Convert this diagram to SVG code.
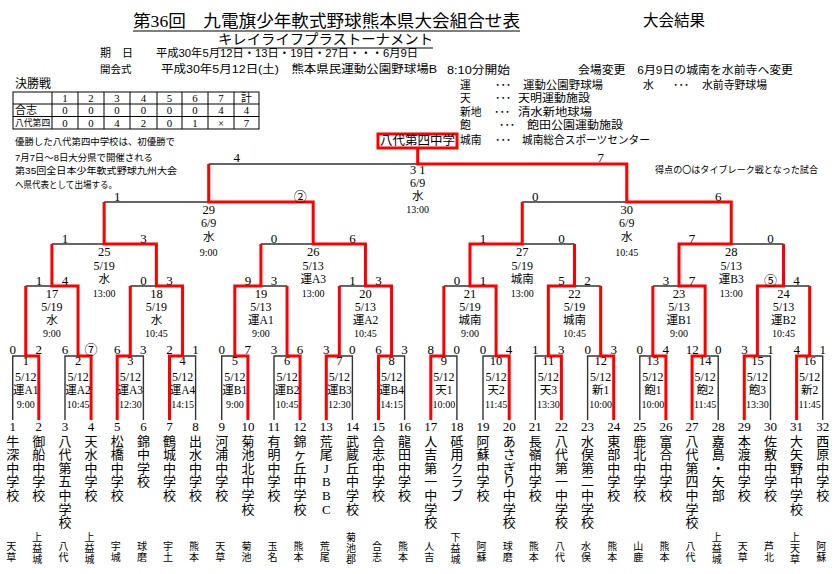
<svg xmlns="http://www.w3.org/2000/svg" width="840" height="574" viewBox="0 0 840 574">
<style>
text{font-family:"Liberation Serif","Noto Sans CJK JP",serif;dominant-baseline:central;fill:#000}
.g{font-family:"Liberation Sans","Noto Sans CJK JP",sans-serif}
.n,.d,.v,.t,.sc,.tn,.nm,.rg,.c{text-anchor:middle}
.n{font-size:12.5px}.d{font-size:12px}.v{font-size:11.5px}.t{font-size:10px}.sc{font-size:13px}
.tn{font-size:13px}.nm{font-size:13px}.rg{font-size:10px}
.h{font-size:11.5px}.lg{font-size:10.8px}.nt{font-size:9.5px}.tv{font-size:10.8px;text-anchor:middle}
.k{fill:none;stroke:#333;stroke-width:1.4}
.r{fill:none;stroke:#f00;stroke-width:3}
.ul{stroke:#000;stroke-width:1}
.tb{fill:none;stroke:#000;stroke-width:1}
</style>
<rect width="840" height="574" fill="#fff"/>

<g id="header">
<text x="133" y="21" style="font-size:17px" textLength="387" lengthAdjust="spacingAndGlyphs">第36回　九電旗少年軟式野球熊本県大会組合せ表</text>
<line class="ul" x1="133" y1="31" x2="520" y2="31"/>
<text x="218" y="39" style="font-size:14px" textLength="215" lengthAdjust="spacingAndGlyphs">キレイライフプラストーナメント</text>
<line class="ul" x1="218" y1="48" x2="433" y2="48"/>
<text x="643" y="20" style="font-size:15.5px">大会結果</text>
<text class="g h" x="100" y="53" style="font-size:11px">期　日</text>
<text class="g h" x="156" y="53" textLength="262" lengthAdjust="spacingAndGlyphs">平成30年5月12日・13日・19日・27日・・・6月9日</text>
<text class="g h" x="100" y="69" style="font-size:10.5px">開会式</text>
<text class="g h" x="161" y="69" textLength="276" lengthAdjust="spacingAndGlyphs">平成30年5月12日(土)　熊本県民運動公園野球場B</text>
<text class="g h" x="447" y="70" textLength="63" lengthAdjust="spacingAndGlyphs">8:10分開始</text>
<text class="g h" x="578" y="70" textLength="215" lengthAdjust="spacingAndGlyphs">会場変更　6月9日の城南を水前寺へ変更</text>
</g>

<g id="legend">
<text class="g lg" x="460" y="85">運</text><text class="g lg" x="495" y="85">･･･</text><text class="g lg" x="523" y="85" textLength="80" lengthAdjust="spacingAndGlyphs">運動公園野球場</text>
<text class="g lg" x="643" y="85">水</text><text class="g lg" x="673" y="85">･･･</text><text class="g lg" x="702" y="85" textLength="65" lengthAdjust="spacingAndGlyphs">水前寺野球場</text>
<text class="g lg" x="460" y="98">天</text><text class="g lg" x="495" y="98">･･･</text><text class="g lg" x="518" y="98" textLength="72" lengthAdjust="spacingAndGlyphs">天明運動施設</text>
<text class="g lg" x="460" y="111.5">新地</text><text class="g lg" x="494" y="111.5">･･･</text><text class="g lg" x="518" y="111.5" textLength="74" lengthAdjust="spacingAndGlyphs">清水新地球場</text>
<text class="g lg" x="460" y="125">飽</text><text class="g lg" x="499" y="125">･･･</text><text class="g lg" x="527" y="125" textLength="96" lengthAdjust="spacingAndGlyphs">飽田公園運動施設</text>
<text class="g lg" x="460" y="140">城南</text><text class="g lg" x="495" y="140">･･･</text><text class="g lg" x="522" y="140" textLength="128" lengthAdjust="spacingAndGlyphs">城南総合スポーツセンター</text>
<text class="g" x="655" y="169" style="font-size:9.5px" textLength="163" lengthAdjust="spacingAndGlyphs">得点の〇はタイブレーク戦となった試合</text>
</g>

<g id="final-table">
<text class="g" x="15" y="84" style="font-size:12px">決勝戦</text>
<rect class="tb" x="13" y="92" width="246" height="37"/>
<path class="tb" d="M13 104H259M13 116.5H259M52 92V129M78 92V129M104 92V129M130 92V129M157 92V129M182 92V129M208 92V129M234 92V129"/>
<text class="tv" x="65" y="98">1</text><text class="tv" x="91" y="98">2</text><text class="tv" x="117" y="98">3</text><text class="tv" x="143.5" y="98">4</text><text class="tv" x="169.5" y="98">5</text><text class="tv" x="195" y="98">6</text><text class="tv" x="221" y="98">7</text><text class="tv" x="246.5" y="98">計</text>
<text class="g" x="15" y="110.3" style="font-size:11px">合志</text>
<text class="tv" x="65" y="110.3">0</text><text class="tv" x="91" y="110.3">0</text><text class="tv" x="117" y="110.3">0</text><text class="tv" x="143.5" y="110.3">0</text><text class="tv" x="169.5" y="110.3">0</text><text class="tv" x="195" y="110.3">0</text><text class="tv" x="221" y="110.3">4</text><text class="tv" x="246.5" y="110.3">4</text>
<text class="g" x="15" y="122.8" style="font-size:8.8px">八代第四</text>
<text class="tv" x="65" y="122.8">0</text><text class="tv" x="91" y="122.8">0</text><text class="tv" x="117" y="122.8">4</text><text class="tv" x="143.5" y="122.8">2</text><text class="tv" x="169.5" y="122.8">0</text><text class="tv" x="195" y="122.8">1</text><text class="tv" x="221" y="122.8">×</text><text class="tv" x="246.5" y="122.8">7</text>
</g>

<g id="notes">
<text class="g nt" x="15" y="141.5" textLength="160" lengthAdjust="spacingAndGlyphs">優勝した八代第四中学校は、初優勝で</text>
<text class="g nt" x="15" y="157" textLength="138" lengthAdjust="spacingAndGlyphs">7月7日～8日大分県で開催される</text>
<text class="g nt" x="15" y="170.5" textLength="162" lengthAdjust="spacingAndGlyphs">第35回全日本少年軟式野球九州大会</text>
<text class="g nt" x="15" y="184" textLength="102" lengthAdjust="spacingAndGlyphs">へ県代表として出場する。</text>
</g>

<g id="connectors">
<path class="k" d="M12.7 420V356H25.75M65 420V356H78.05M143.4 420V356H130.3M195.6 420V356H182.55M221.7 420V356H234.8M274 420V356H287.05M352.4 420V356H339.35M404.6 420V356H391.55M456.9 420V356H443.85M483 420V356H496.1M535.3 420V356H548.35M587.6 420V356H600.65M639.8 420V356H652.85M718.2 420V356H705.15M770.5 420V356H757.4M822.7 420V356H809.65"/>
<path class="k" d="M25.75 286H51.9M130.3 286H156.4M287.05 286H260.9M339.35 286H365.45M443.85 286H470M600.65 286H574.5M652.85 286H679M809.65 286H783.5"/>
<path class="k" d="M51.9 244H104.15M260.9 244H313.2M574.5 244H522.25M783.5 244H731.25M104.15 202H208.7M522.25 202H626.75M208.7 164H417.7"/>
<path class="r" d="M38.8 420V356H25.75V286"/>
<path class="r" d="M91.1 420V356H78.05V286H51.9V244"/>
<path class="r" d="M117.2 420V356H130.3V286"/>
<path class="r" d="M169.5 420V356H182.55V286H156.4V244H104.15V202"/>
<path class="r" d="M247.9 420V356H234.8V286H260.9V244"/>
<path class="r" d="M300.1 420V356H287.05V286"/>
<path class="r" d="M326.3 420V356H339.35V286"/>
<path class="r" d="M378.5 420V356H391.55V286H365.45V244H313.2V202H208.7V164"/>
<path class="r" d="M430.8 420V356H443.85V286"/>
<path class="r" d="M509.2 420V356H496.1V286H470V244H522.25V202"/>
<path class="r" d="M561.4 420V356H548.35V286H574.5V244"/>
<path class="r" d="M613.7 420V356H600.65V286"/>
<path class="r" d="M665.9 420V356H652.85V286"/>
<path class="r" d="M692.1 420V356H705.15V286H679V244H731.25V202H626.75V164H417.7V148"/>
<path class="r" d="M744.3 420V356H757.4V286H783.5V244"/>
<path class="r" d="M796.6 420V356H809.65V286"/>
</g>

<g id="champion">
<rect x="378" y="134" width="79" height="14" fill="#fff" stroke="#f00" stroke-width="3"/>
<text class="c" x="417.5" y="141" style="font-size:12.5px">八代第四中学</text>
</g>

<g id="m1" transform="translate(25.75 0)"><text class="n" y="361">1</text><text class="d" y="377">5/12</text><text class="v" y="390">運A1</text><text class="t" y="404">9:00</text><text class="sc" x="-13" y="349">0</text><text class="sc" x="13" y="349">2</text></g>
<g id="m2" transform="translate(78.05 0)"><text class="n" y="361">2</text><text class="d" y="377">5/12</text><text class="v" y="390">運A2</text><text class="t" y="404">10:45</text><text class="sc" x="-13" y="349">6</text><text class="sc" x="13" y="349">⑦</text></g>
<g id="m3" transform="translate(130.3 0)"><text class="n" y="361">3</text><text class="d" y="377">5/12</text><text class="v" y="390">運A3</text><text class="t" y="404">12:30</text><text class="sc" x="-13" y="349">6</text><text class="sc" x="13" y="349">3</text></g>
<g id="m4" transform="translate(182.55 0)"><text class="n" y="361">4</text><text class="d" y="377">5/12</text><text class="v" y="390">運A4</text><text class="t" y="404">14:15</text><text class="sc" x="-13" y="349">2</text><text class="sc" x="13" y="349">1</text></g>
<g id="m5" transform="translate(234.8 0)"><text class="n" y="361">5</text><text class="d" y="377">5/12</text><text class="v" y="390">運B1</text><text class="t" y="404">9:00</text><text class="sc" x="-13" y="349">0</text><text class="sc" x="13" y="349">7</text></g>
<g id="m6" transform="translate(287.05 0)"><text class="n" y="361">6</text><text class="d" y="377">5/12</text><text class="v" y="390">運B2</text><text class="t" y="404">10:45</text><text class="sc" x="-13" y="349">3</text><text class="sc" x="13" y="349">6</text></g>
<g id="m7" transform="translate(339.35 0)"><text class="n" y="361">7</text><text class="d" y="377">5/12</text><text class="v" y="390">運B3</text><text class="t" y="404">12:30</text><text class="sc" x="-13" y="349">3</text><text class="sc" x="13" y="349">0</text></g>
<g id="m8" transform="translate(391.55 0)"><text class="n" y="361">8</text><text class="d" y="377">5/12</text><text class="v" y="390">運B4</text><text class="t" y="404">14:15</text><text class="sc" x="-13" y="349">6</text><text class="sc" x="13" y="349">3</text></g>
<g id="m9" transform="translate(443.85 0)"><text class="n" y="361">9</text><text class="d" y="377">5/12</text><text class="v" y="390">天1</text><text class="t" y="404">10:00</text><text class="sc" x="-13" y="349">8</text><text class="sc" x="13" y="349">0</text></g>
<g id="m10" transform="translate(496.1 0)"><text class="n" y="361">10</text><text class="d" y="377">5/12</text><text class="v" y="390">天2</text><text class="t" y="404">11:45</text><text class="sc" x="-13" y="349">0</text><text class="sc" x="13" y="349">4</text></g>
<g id="m11" transform="translate(548.35 0)"><text class="n" y="361">11</text><text class="d" y="377">5/12</text><text class="v" y="390">天3</text><text class="t" y="404">13:30</text><text class="sc" x="-13" y="349">1</text><text class="sc" x="13" y="349">3</text></g>
<g id="m12" transform="translate(600.65 0)"><text class="n" y="361">12</text><text class="d" y="377">5/12</text><text class="v" y="390">新1</text><text class="t" y="404">10:00</text><text class="sc" x="-13" y="349">0</text><text class="sc" x="13" y="349">3</text></g>
<g id="m13" transform="translate(652.85 0)"><text class="n" y="361">13</text><text class="d" y="377">5/12</text><text class="v" y="390">飽1</text><text class="t" y="404">10:00</text><text class="sc" x="-13" y="349">0</text><text class="sc" x="13" y="349">4</text></g>
<g id="m14" transform="translate(705.15 0)"><text class="n" y="361">14</text><text class="d" y="377">5/12</text><text class="v" y="390">飽2</text><text class="t" y="404">11:45</text><text class="sc" x="-13" y="349">12</text><text class="sc" x="13" y="349">0</text></g>
<g id="m15" transform="translate(757.4 0)"><text class="n" y="361">15</text><text class="d" y="377">5/12</text><text class="v" y="390">飽3</text><text class="t" y="404">13:30</text><text class="sc" x="-13" y="349">3</text><text class="sc" x="13" y="349">1</text></g>
<g id="m16" transform="translate(809.65 0)"><text class="n" y="361">16</text><text class="d" y="377">5/12</text><text class="v" y="390">新2</text><text class="t" y="404">11:45</text><text class="sc" x="-13" y="349">4</text><text class="sc" x="13" y="349">1</text></g>

<g id="m17" transform="translate(51.9 0)"><text class="n" y="294">17</text><text class="d" y="307">5/19</text><text class="v" y="320">水</text><text class="t" y="333">9:00</text><text class="sc" x="-13" y="280">1</text><text class="sc" x="13" y="280">4</text></g>
<g id="m18" transform="translate(156.4 0)"><text class="n" y="294">18</text><text class="d" y="307">5/19</text><text class="v" y="320">水</text><text class="t" y="333">10:45</text><text class="sc" x="-13" y="280">0</text><text class="sc" x="13" y="280">3</text></g>
<g id="m19" transform="translate(260.9 0)"><text class="n" y="294">19</text><text class="d" y="307">5/13</text><text class="v" y="320">運A1</text><text class="t" y="333">9:00</text><text class="sc" x="-13" y="280">9</text><text class="sc" x="13" y="280">3</text></g>
<g id="m20" transform="translate(365.45 0)"><text class="n" y="294">20</text><text class="d" y="307">5/13</text><text class="v" y="320">運A2</text><text class="t" y="333">10:45</text><text class="sc" x="-13" y="280">1</text><text class="sc" x="13" y="280">3</text></g>
<g id="m21" transform="translate(470 0)"><text class="n" y="294">21</text><text class="d" y="307">5/19</text><text class="v" y="320">城南</text><text class="t" y="333">9:00</text><text class="sc" x="-13" y="280">0</text><text class="sc" x="13" y="280">1</text></g>
<g id="m22" transform="translate(574.5 0)"><text class="n" y="294">22</text><text class="d" y="307">5/19</text><text class="v" y="320">城南</text><text class="t" y="333">10:45</text><text class="sc" x="-13" y="280">5</text><text class="sc" x="13" y="280">2</text></g>
<g id="m23" transform="translate(679 0)"><text class="n" y="294">23</text><text class="d" y="307">5/13</text><text class="v" y="320">運B1</text><text class="t" y="333">9:00</text><text class="sc" x="-13" y="280">3</text><text class="sc" x="13" y="280">7</text></g>
<g id="m24" transform="translate(783.5 0)"><text class="n" y="294">24</text><text class="d" y="307">5/13</text><text class="v" y="320">運B2</text><text class="t" y="333">10:45</text><text class="sc" x="-13" y="280">⑤</text><text class="sc" x="13" y="280">4</text></g>

<g id="m25" transform="translate(104.15 0)"><text class="n" y="252">25</text><text class="d" y="266">5/19</text><text class="v" y="279">水</text><text class="t" y="293">13:00</text><text class="sc" x="-39.25" y="238">1</text><text class="sc" x="39.25" y="238">3</text></g>
<g id="m26" transform="translate(313.2 0)"><text class="n" y="252">26</text><text class="d" y="266">5/13</text><text class="v" y="279">運A3</text><text class="t" y="293">13:00</text><text class="sc" x="-39.25" y="238">0</text><text class="sc" x="39.25" y="238">6</text></g>
<g id="m27" transform="translate(522.25 0)"><text class="n" y="252">27</text><text class="d" y="266">5/19</text><text class="v" y="279">城南</text><text class="t" y="293">13:00</text><text class="sc" x="-39.25" y="238">1</text><text class="sc" x="39.25" y="238">0</text></g>
<g id="m28" transform="translate(731.25 0)"><text class="n" y="252">28</text><text class="d" y="266">5/13</text><text class="v" y="279">運B3</text><text class="t" y="293">13:00</text><text class="sc" x="-39.25" y="238">7</text><text class="sc" x="39.25" y="238">0</text></g>

<g id="m29" transform="translate(208.7 0)"><text class="n" y="210">29</text><text class="d" y="223">6/9</text><text class="v" y="237">水</text><text class="t" y="252">9:00</text><text class="sc" x="-91.5" y="196">1</text><text class="sc" x="91.5" y="196">②</text></g>
<g id="m30" transform="translate(626.75 0)"><text class="n" y="210">30</text><text class="d" y="223">6/9</text><text class="v" y="237">水</text><text class="t" y="252">10:45</text><text class="sc" x="-91.5" y="196">0</text><text class="sc" x="91.5" y="196">6</text></g>
<g id="m31" transform="translate(417.7 0)"><text class="n" y="170">3 1</text><text class="d" y="183">6/9</text><text class="v" y="196">水</text><text class="t" y="209">13:00</text><text class="sc" x="-181" y="157">4</text><text class="sc" x="183" y="157">7</text></g>

<g id="t1" transform="translate(12.7 0)"><text class="tn" y="426">1</text><text class="nm" x="0 0 0 0 0" y="441 454.6 468.2 481.8 495.4">牛深中学校</text><text class="rg" x="-1.5 -1.5" y="546 557">天草</text></g>
<g id="t2" transform="translate(38.8 0)"><text class="tn" y="426">2</text><text class="nm" x="0 0 0 0 0" y="441 454.6 468.2 481.8 495.4">御船中学校</text><text class="rg" x="-1.5 -1.5 -1.5" y="537 548 559">上益城</text></g>
<g id="t3" transform="translate(65 0)"><text class="tn" y="426">3</text><text class="nm" x="0 0 0 0 0 0 0" y="441 454.6 468.2 481.8 495.4 509 522.6">八代第五中学校</text><text class="rg" x="-1.5 -1.5" y="546 557">八代</text></g>
<g id="t4" transform="translate(91.1 0)"><text class="tn" y="426">4</text><text class="nm" x="0 0 0 0 0" y="441 454.6 468.2 481.8 495.4">天水中学校</text><text class="rg" x="-1.5 -1.5 -1.5" y="537 548 559">上益城</text></g>
<g id="t5" transform="translate(117.2 0)"><text class="tn" y="426">5</text><text class="nm" x="0 0 0 0 0" y="441 454.6 468.2 481.8 495.4">松橋中学校</text><text class="rg" x="-1.5 -1.5" y="546 557">宇城</text></g>
<g id="t6" transform="translate(143.4 0)"><text class="tn" y="426">6</text><text class="nm" x="0 0 0 0" y="441 454.6 468.2 481.8">錦中学校</text><text class="rg" x="-1.5 -1.5" y="546 557">球磨</text></g>
<g id="t7" transform="translate(169.5 0)"><text class="tn" y="426">7</text><text class="nm" x="0 0 0 0 0" y="441 454.6 468.2 481.8 495.4">鶴城中学校</text><text class="rg" x="-1.5 -1.5" y="546 557">宇土</text></g>
<g id="t8" transform="translate(195.6 0)"><text class="tn" y="426">8</text><text class="nm" x="0 0 0 0 0" y="441 454.6 468.2 481.8 495.4">出水中学校</text><text class="rg" x="-1.5 -1.5" y="546 557">熊本</text></g>
<g id="t9" transform="translate(221.7 0)"><text class="tn" y="426">9</text><text class="nm" x="0 0 0 0 0" y="441 454.6 468.2 481.8 495.4">河浦中学校</text><text class="rg" x="-1.5 -1.5" y="546 557">天草</text></g>
<g id="t10" transform="translate(247.9 0)"><text class="tn" y="426">10</text><text class="nm" x="0 0 0 0 0 0" y="441 454.6 468.2 481.8 495.4 509">菊池北中学校</text><text class="rg" x="-1.5 -1.5" y="546 557">菊池</text></g>
<g id="t11" transform="translate(274 0)"><text class="tn" y="426">11</text><text class="nm" x="0 0 0 0 0" y="441 454.6 468.2 481.8 495.4">有明中学校</text><text class="rg" x="-1.5 -1.5" y="546 557">玉名</text></g>
<g id="t12" transform="translate(300.1 0)"><text class="tn" y="426">12</text><text class="nm" x="0 0 0 0 0 0" y="441 454.6 468.2 481.8 495.4 509">錦ヶ丘中学校</text><text class="rg" x="-1.5 -1.5" y="546 557">熊本</text></g>
<g id="t13" transform="translate(326.3 0)"><text class="tn" y="426">13</text><text class="nm" x="0 0 0 0 0 0" y="441 454.6 468.2 481.8 495.4 509">荒尾JBBC</text><text class="rg" x="-1.5 -1.5" y="546 557">荒尾</text></g>
<g id="t14" transform="translate(352.4 0)"><text class="tn" y="426">14</text><text class="nm" x="0 0 0 0 0 0" y="441 454.6 468.2 481.8 495.4 509">武蔵丘中学校</text><text class="rg" x="-1.5 -1.5 -1.5" y="537 548 559">菊池郡</text></g>
<g id="t15" transform="translate(378.5 0)"><text class="tn" y="426">15</text><text class="nm" x="0 0 0 0 0" y="441 454.6 468.2 481.8 495.4">合志中学校</text><text class="rg" x="-1.5 -1.5" y="546 557">合志</text></g>
<g id="t16" transform="translate(404.6 0)"><text class="tn" y="426">16</text><text class="nm" x="0 0 0 0 0" y="441 454.6 468.2 481.8 495.4">龍田中学校</text><text class="rg" x="-1.5 -1.5" y="546 557">熊本</text></g>
<g id="t17" transform="translate(430.8 0)"><text class="tn" y="426">17</text><text class="nm" x="0 0 0 0 0 0 0" y="441 454.6 468.2 481.8 495.4 509 522.6">人吉第一中学校</text><text class="rg" x="-1.5 -1.5" y="546 557">人吉</text></g>
<g id="t18" transform="translate(456.9 0)"><text class="tn" y="426">18</text><text class="nm" x="0 0 0 0 0" y="441 454.6 468.2 481.8 495.4">砥用クラブ</text><text class="rg" x="-1.5 -1.5 -1.5" y="537 548 559">下益城</text></g>
<g id="t19" transform="translate(483 0)"><text class="tn" y="426">19</text><text class="nm" x="0 0 0 0 0" y="441 454.6 468.2 481.8 495.4">阿蘇中学校</text><text class="rg" x="-1.5 -1.5" y="546 557">阿蘇</text></g>
<g id="t20" transform="translate(509.2 0)"><text class="tn" y="426">20</text><text class="nm" x="0 0 0 0 0 0 0" y="441 454.6 468.2 481.8 495.4 509 522.6">あさぎり中学校</text><text class="rg" x="-1.5 -1.5" y="546 557">球磨</text></g>
<g id="t21" transform="translate(535.3 0)"><text class="tn" y="426">21</text><text class="nm" x="0 0 0 0 0" y="441 454.6 468.2 481.8 495.4">長嶺中学校</text><text class="rg" x="-1.5 -1.5" y="546 557">熊本</text></g>
<g id="t22" transform="translate(561.4 0)"><text class="tn" y="426">22</text><text class="nm" x="0 0 0 0 0 0 0" y="441 454.6 468.2 481.8 495.4 509 522.6">八代第一中学校</text><text class="rg" x="-1.5 -1.5" y="546 557">八代</text></g>
<g id="t23" transform="translate(587.6 0)"><text class="tn" y="426">23</text><text class="nm" x="0 0 0 0 0 0 0" y="441 454.6 468.2 481.8 495.4 509 522.6">水俣第二中学校</text><text class="rg" x="-1.5 -1.5" y="546 557">水俣</text></g>
<g id="t24" transform="translate(613.7 0)"><text class="tn" y="426">24</text><text class="nm" x="0 0 0 0 0" y="441 454.6 468.2 481.8 495.4">東部中学校</text><text class="rg" x="-1.5 -1.5" y="546 557">熊本</text></g>
<g id="t25" transform="translate(639.8 0)"><text class="tn" y="426">25</text><text class="nm" x="0 0 0 0 0" y="441 454.6 468.2 481.8 495.4">鹿北中学校</text><text class="rg" x="-1.5 -1.5" y="546 557">山鹿</text></g>
<g id="t26" transform="translate(665.9 0)"><text class="tn" y="426">26</text><text class="nm" x="0 0 0 0 0" y="441 454.6 468.2 481.8 495.4">富合中学校</text><text class="rg" x="-1.5 -1.5" y="546 557">熊本</text></g>
<g id="t27" transform="translate(692.1 0)"><text class="tn" y="426">27</text><text class="nm" x="0 0 0 0 0 0 0" y="441 454.6 468.2 481.8 495.4 509 522.6">八代第四中学校</text><text class="rg" x="-1.5 -1.5" y="546 557">八代</text></g>
<g id="t28" transform="translate(718.2 0)"><text class="tn" y="426">28</text><text class="nm" x="0 0 0 0 0" y="441 454.6 468.2 481.8 495.4">嘉島・矢部</text><text class="rg" x="-1.5 -1.5 -1.5" y="537 548 559">上益城</text></g>
<g id="t29" transform="translate(744.3 0)"><text class="tn" y="426">29</text><text class="nm" x="0 0 0 0 0" y="441 454.6 468.2 481.8 495.4">本渡中学校</text><text class="rg" x="-1.5 -1.5" y="546 557">天草</text></g>
<g id="t30" transform="translate(770.5 0)"><text class="tn" y="426">30</text><text class="nm" x="0 0 0 0 0" y="441 454.6 468.2 481.8 495.4">佐敷中学校</text><text class="rg" x="-1.5 -1.5" y="546 557">芦北</text></g>
<g id="t31" transform="translate(796.6 0)"><text class="tn" y="426">31</text><text class="nm" x="0 0 0 0 0 0" y="441 454.6 468.2 481.8 495.4 509">大矢野中学校</text><text class="rg" x="-1.5 -1.5 -1.5" y="537 548 559">上天草</text></g>
<g id="t32" transform="translate(822.7 0)"><text class="tn" y="426">32</text><text class="nm" x="0 0 0 0 0" y="441 454.6 468.2 481.8 495.4">西原中学校</text><text class="rg" x="-1.5 -1.5" y="546 557">阿蘇</text></g>
</svg>
